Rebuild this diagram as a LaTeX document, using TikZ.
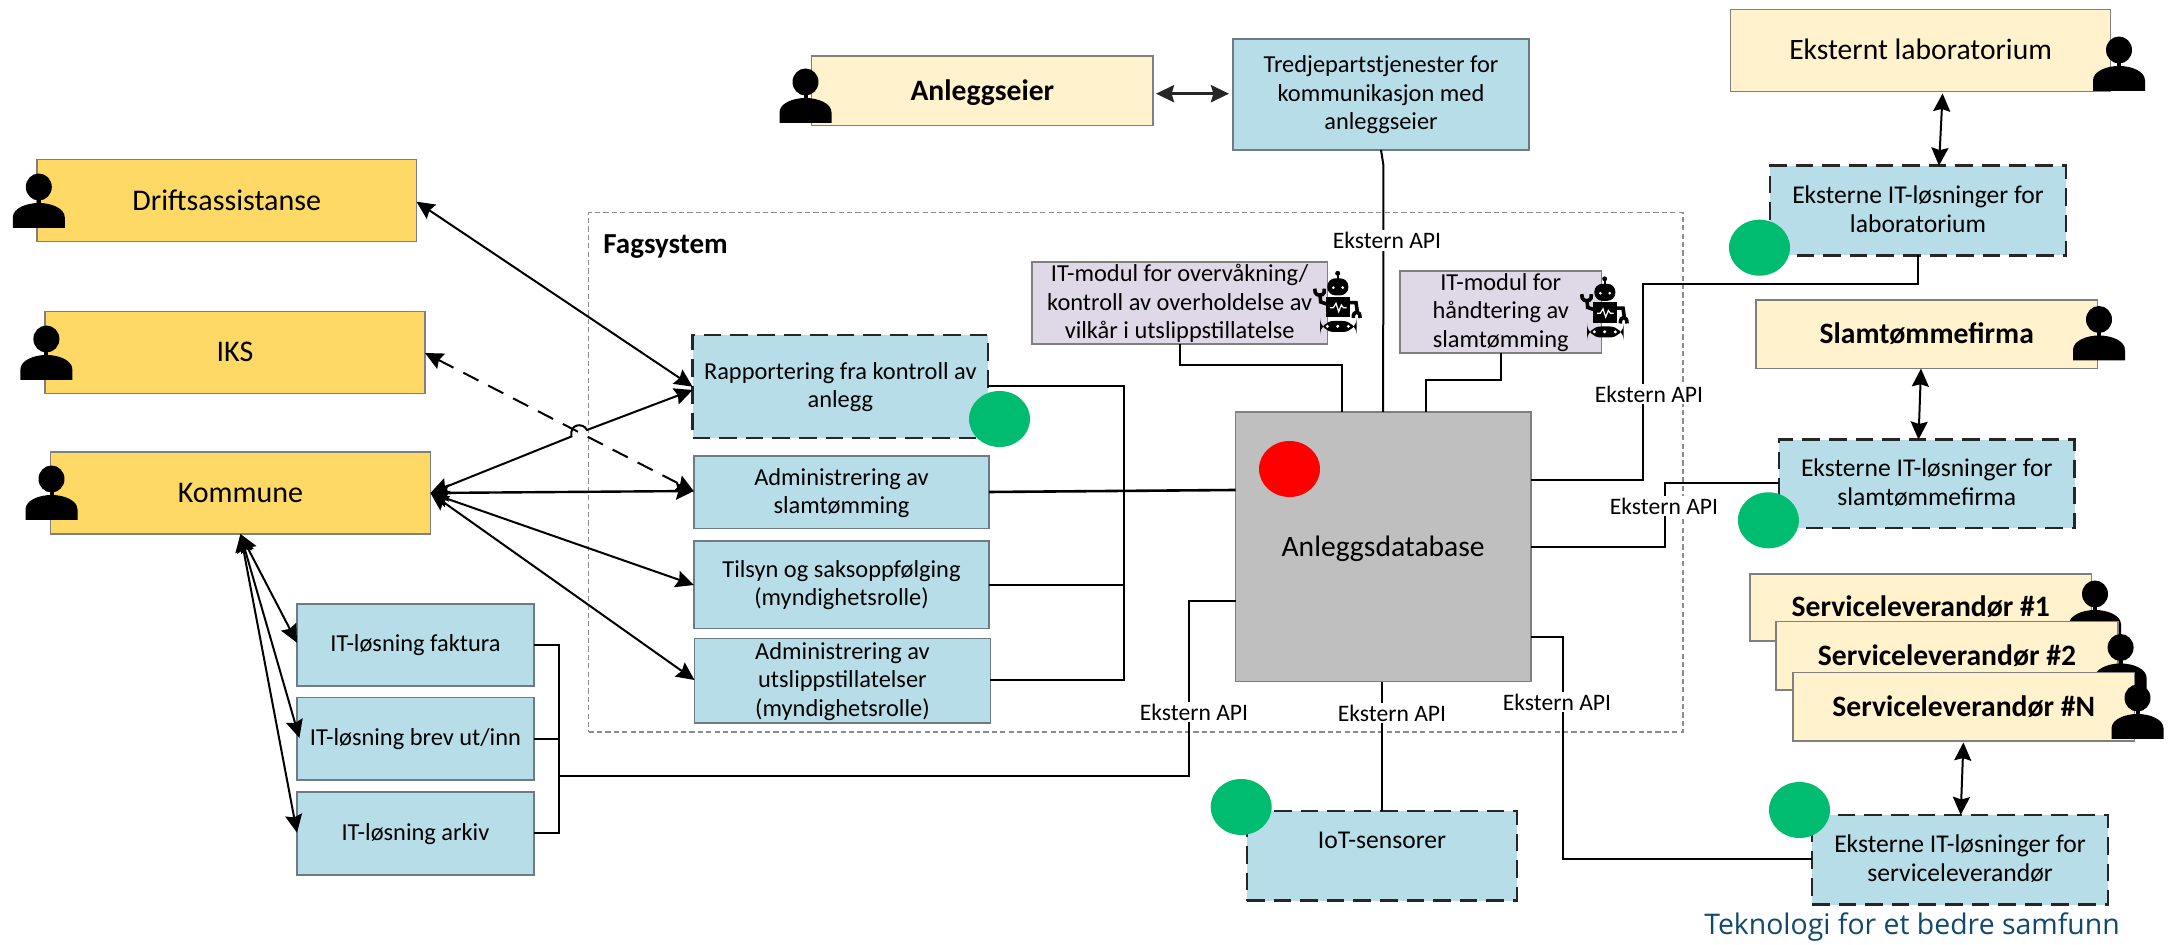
\documentclass[tikz,border=0pt]{standalone}
\usepackage{fontspec}
\setmainfont{Carlito}
\newfontfamily\footfont{Open Sans}
\usetikzlibrary{arrows.meta,shapes.geometric,calc}
\definecolor{gold}{HTML}{FFD966}
\definecolor{cream}{HTML}{FFF2CC}
\definecolor{lblue}{HTML}{B7DEE8}
\definecolor{lav}{HTML}{DFD9E7}
\definecolor{dbgray}{HTML}{BFBFBF}
\definecolor{dotgreen}{HTML}{00BC70}
\definecolor{edge}{HTML}{7F7F7F}
\definecolor{bluedge}{HTML}{6C7C84}
\definecolor{footblue}{HTML}{10486F}
\newcommand{\bx}[7]{%
  \pgfmathsetmacro\cxx{(#3+#5)/2}\pgfmathsetmacro\cyy{(#4+#6)/2}%
  \pgfmathsetmacro\www{(#5-#3)*0.5}\pgfmathsetmacro\hhh{(#6-#4)*0.5}%
  \node[#1,minimum width=\www pt,minimum height=\hhh pt] (#2) at (\cxx,\cyy) {#7};}
\tikzset{
  basebox/.style={draw=edge,line width=0.7pt,align=center,inner sep=0pt,outer sep=0pt},
  actor/.style={basebox,fill=gold,text height=9.5pt,text depth=0pt,font=\fontsize{15}{18}\selectfont},
  extactor/.style={basebox,fill=cream,text height=9.5pt,text depth=0pt,font=\fontsize{14.8}{18}\selectfont},
  extbold/.style={extactor,font=\fontsize{14.8}{18}\selectfont\bfseries},
  solution/.style={basebox,draw=bluedge,fill=lblue,text depth=1.6pt,font=\fontsize{12.2}{14.2}\selectfont},
  dashbox/.style={solution,draw=black!85,line width=1.25pt,dash pattern=on 8.8pt off 4.5pt},
  extdash/.style={dashbox,font=\fontsize{12.8}{14.2}\selectfont},
  module/.style={basebox,fill=lav,text depth=1.6pt,font=\fontsize{12.2}{14.3}\selectfont},
  database/.style={basebox,fill=dbgray,text height=9.5pt,text depth=0pt,font=\fontsize{14.8}{18}\selectfont},
  frame/.style={draw=black!45,line width=0.6pt,dash pattern=on 2.6pt off 1.6pt,inner sep=0pt,outer sep=0pt},
  api/.style={fill=white,inner sep=1pt,outer sep=0pt,font=\fontsize{11.8}{14}\selectfont},
  greendot/.style={ellipse,fill=dotgreen,minimum width=30.5pt,minimum height=28pt,inner sep=0pt},
  reddot/.style={ellipse,fill=red,minimum width=30.5pt,minimum height=28pt,inner sep=0pt},
  link/.style={draw=black,line width=1pt},
  arrowlink/.style={link,{Stealth[length=9pt,width=8.5pt,inset=1.2pt]}-{Stealth[length=9pt,width=8.5pt,inset=1.2pt]}},
  person/.pic={
    \fill[black] (26,13.5) ellipse [x radius=13,y radius=13.5];
    \fill[black] (24,25) rectangle (28,32);
    \fill[black] (0,54.5) -- (0,44) .. controls (0,35) and (13,29.5) .. (26,29.5)
      .. controls (39,29.5) and (52,35) .. (52,44) -- (52,54.5) -- cycle;
  },
  robot/.pic={
    \begin{scope}[scale=1/3]
    \fill[black] (113,40) circle [radius=7.5];
    \fill[black] (110,40) rectangle (116,58);
    \fill[black,rounded corners=4pt] (82,55) rectangle (145,106);
    \fill[white] (100,83) circle [radius=4.5];
    \fill[white] (128,83) circle [radius=4.5];
    \fill[black] (78,111) rectangle (150,172);
    \draw[white,line width=0.6pt] (90,143) -- (100,143) -- (108,130) -- (116,155) -- (124,135) -- (130,143) -- (140,143);
    \fill[black,rounded corners=7pt] (60,183) rectangle (170,216);
    \fill[white] (82,199) circle [radius=5];
    \fill[white] (113,199) circle [radius=5];
    \fill[white] (145,199) circle [radius=5];
    \draw[black,line width=1.8pt] (80,132) -- (62,126) -- (60,105);
    \draw[black,line width=1.8pt] (44,86) -- (46,98) .. controls (48,108) and (70,108) .. (72,98) -- (73,86);
    \draw[black,line width=1.8pt] (150,128) -- (168,128) -- (172,155);
    \draw[black,line width=1.8pt] (160,174) .. controls (158,150) and (182,150) .. (180,174);
    \end{scope}
  }
}
\begin{document}
\begin{tikzpicture}[x=0.5pt,y=-0.5pt]
\path[use as bounding box] (0,0) rectangle (2176,945);
% system frame
\bx{frame}{fag}{588.6}{212.8}{1683}{732}{}
\node[anchor=west,inner sep=0pt,font=\fontsize{14.5}{18}\selectfont\bfseries] (fagl) at (603,247) {Fagsystem};
% left actors
\bx{actor}{drift}{37}{159.7}{416.5}{241.7}{Driftsassistanse}
\bx{actor}{iks}{45}{311.7}{425}{393.3}{IKS}
\bx{actor}{kommune}{50.4}{452}{430.5}{534}{Kommune}
\pic at (12.8,173.5) {person};
\pic at (20.4,325.5) {person};
\pic at (25.5,465.5) {person};
% central solutions
\bx{dashbox}{rapp}{692.6}{335}{988}{438}{Rapportering fra kontroll av\\anlegg}
\bx{solution}{slam}{694}{456}{989}{528.7}{Administrering av\\slamtømming}
\bx{solution}{tilsyn}{694}{541}{989}{628.7}{Tilsyn og saksoppfølging\\(myndighetsrolle)}
\bx{solution}{utsl}{694.5}{638.7}{990.4}{723}{Administrering av\\utslippstillatelser\\(myndighetsrolle)}
% IT boxes
\bx{solution}{fakt}{297}{604}{534}{686}{IT-løsning faktura}
\bx{solution}{brev}{297}{697.7}{534}{780}{IT-løsning brev ut/inn}
\bx{solution}{ark}{297}{792}{534}{875}{IT-løsning arkiv}
% database and modules
\bx{database}{db}{1235.5}{412}{1530.8}{681.7}{Anleggsdatabase}
\bx{module}{mod1}{1032}{262}{1327.4}{344}{IT-modul for overvåkning/\\kontroll av overholdelse av\\vilkår i utslippstillatelse}
\bx{module}{mod2}{1400}{271}{1601.5}{353}{IT-modul for\\håndtering av\\slamtømming}
% top
\bx{extbold}{eier}{811.7}{56}{1153}{125.7}{Anleggseier}
\bx{solution}{third}{1233}{39}{1529}{150}{Tredjepartstjenester for\\kommunikasjon med\\anleggseier}
% right
\bx{extactor}{lab}{1730.5}{9.6}{2110.7}{91.4}{Eksternt laboratorium}
\bx{extdash}{xlab}{1770}{165.7}{2066}{255.4}{Eksterne IT-løsninger for\\laboratorium}
\bx{extbold}{firma}{1756}{300}{2097.6}{368.6}{Slamtømmefirma}
\bx{extdash}{xslam}{1779}{439.6}{2074.5}{528}{Eksterne IT-løsninger for\\slamtømmefirma}
\bx{extbold}{s1}{1750}{574}{2091.6}{641}{Serviceleverandør \#1}
\pic at (2069,580.5) {person};
\bx{extbold}{s2}{1776}{621.7}{2118}{690}{Serviceleverandør \#2}
\pic at (2094.6,634) {person};
\bx{extbold}{sn}{1793}{672.7}{2134.6}{741}{Serviceleverandør \#N}
\bx{extdash}{xserv}{1812}{815}{2108}{904.7}{Eksterne IT-løsninger for\\serviceleverandør}
\bx{extdash}{iot}{1247}{811}{1517}{900.7}{IoT-sensorer\\\mbox{}}
\pic at (779.5,68.5) {person};
\pic at (2093,36.5) {person};
\pic at (2073,306) {person};
\pic at (2111.5,684.5) {person};
% robots
\pic at (1300,260) {robot};
\pic at (1567,265.5) {robot};
% links to database
\coordinate (busa) at (1124,386);
\coordinate (busb) at (1124,680);
\draw[link] (rapp.east |- busa) -- (busa) -- (busb) -- (utsl.east |- busb);
\draw[link,line width=1.3pt] (slam.east |- 0,492) -- (db.west |- 0,490);
\draw[link] (tilsyn.east |- 0,585) -- (1124,585);
\draw[link] (1179.5,0 |- mod1.south) -- (1179.5,365) -- (1342,365) -- (1342,0 |- db.north);
\draw[link] (1501,0 |- mod2.south) -- (1501,380) -- (1426,380) -- (1426,0 |- db.north);
\draw[link] (third.south) -- ++(2.4,15) -- (db.north);
% IT-solutions bus
\coordinate (itbus) at (558.7,776);
\draw[link] (fakt.east) -- (558.7,0 |- fakt.east) -- (558.7,0 |- ark.east) -- (ark.east);
\draw[link] (brev.east) -- (558.7,0 |- brev.east);
\draw[link,line width=1.2pt] (itbus) -- (1189,776) -- (1189,601) -- (db.west |- 0,601);
% external API links
\draw[link] (xlab.south -| 1918,0) -- (1918,284) -- (1643,284) -- (1643,480) -- (db.east |- 0,480);
\draw[link] (xslam.west |- 0,483.5) -- (1665,483.5) -- (1665,547) -- (db.east |- 0,547);
\draw[link] (xserv.west |- 0,859.5) -- (1562.7,859.5) -- (1562.7,636.7) -- (db.east |- 0,636.7);
\draw[link] (db.south -| iot.north) -- (iot.north);
% arrows on the left
\draw[arrowlink] (drift.east |- 0,201.7) -- (rapp.west |- 0,386.7);
\draw[arrowlink,dash pattern=on 8.5pt off 5.5pt] (iks.east |- 0,353) -- (slam.west |- 0,491.5);
\coordinate (jumpa) at (571.5,436.5);
\coordinate (jumpb) at (587,430);
\draw[arrowlink] (kommune.east |- 0,493) -- (jumpa) .. controls (569,424) and (583,422) .. (jumpb) -- (rapp.west |- 0,390);
\draw[arrowlink,line width=1.2pt] (kommune.east |- 0,493) -- (slam.west |- 0,491);
\draw[arrowlink] (kommune.east |- 0,493) -- (tilsyn.west |- 0,585);
\draw[arrowlink] (kommune.east |- 0,493) -- (utsl.west |- 0,680);
\draw[arrowlink] (kommune.south) -- (fakt.west |- 0,642.7);
\draw[arrowlink] (kommune.south) -- ([xshift=1.2pt]brev.west |- 0,738);
\draw[arrowlink] (kommune.south) -- (ark.west |- 0,832.7);
% arrows top and right
\draw[arrowlink,line width=1.5pt,draw=black!85] (eier.east |- 0,93.7) ++(3,0) coordinate (ea) (third.west |- 0,93.7) ++(-4,0) coordinate (eb) (ea) -- (eb);
\draw[arrowlink] (1942.6,0 |- lab.south) ++(0,2) coordinate (la) (la) -- (1939,0 |- xlab.north);
\draw[arrowlink] (1921,0 |- firma.south) -- (1918.5,0 |- xslam.north);
\draw[arrowlink] (1963.4,0 |- sn.south) ++(0,1.5) coordinate (sa) (sa) -- (1960.7,0 |- xserv.north);
% API labels
\node[api] (a1) at (1387,240.7) {Ekstern API};
\node[api] (a2) at (1649,394) {Ekstern API};
\node[api] (a3) at (1664,506) {Ekstern API};
\node[api] (a4) at (1557,702) {Ekstern API};
\node[api] (a5) at (1392,713) {Ekstern API};
\node[api] (a6) at (1194,712) {Ekstern API};
% status dots
\node[greendot] (g1) at (999.5,419) {};
\node[reddot] (r1) at (1289.5,469) {};
\node[greendot] (g2) at (1759.5,247.7) {};
\node[greendot] (g3) at (1768.4,520.3) {};
\node[greendot] (g4) at (1799.5,810) {};
\node[greendot] (g5) at (1241.2,807) {};
\node[anchor=center,inner sep=0pt,text=footblue,font=\footfont\fontsize{14.2}{17}\selectfont] (foot) at (1912,927) {Teknologi for et bedre samfunn};
\end{tikzpicture}
\end{document}
